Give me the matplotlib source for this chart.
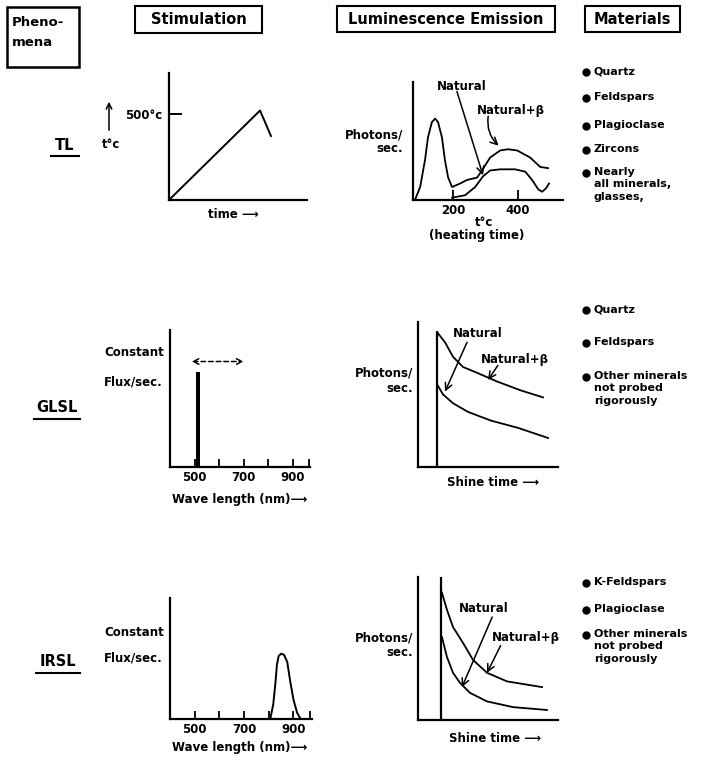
import matplotlib.pyplot as plt
from matplotlib.patches import Rectangle

# TL stimulation: linear heating ramp then cooling
tl_time = [0, 1.0, 1.12]
tl_temp = [0, 520, 372]

# TL glow curves (temperature in C, relative intensity)
tl_T_nb = [83, 99, 114, 123, 135, 145, 154, 166, 175, 185, 197, 222, 243, 274, 289, 314, 345, 369, 397, 437, 468, 492]
tl_I_nb = [0, 0.11, 0.34, 0.53, 0.66, 0.69, 0.66, 0.53, 0.34, 0.19, 0.11, 0.14, 0.17, 0.19, 0.25, 0.36, 0.42, 0.43, 0.42, 0.36, 0.28, 0.27]
tl_T_n = [197, 237, 268, 292, 314, 345, 391, 422, 443, 462, 474, 486, 495]
tl_I_n = [0.02, 0.04, 0.11, 0.20, 0.25, 0.26, 0.26, 0.24, 0.17, 0.09, 0.07, 0.10, 0.14]

# GLSL stimulation: narrow green line
glsl_laser_nm = 514
glsl_laser_flux = 0.69

# GLSL shine-down curves
glsl_t_on = 1.36
glsl_t_nb = [1.36, 1.93, 2.5, 3.21, 4.21, 5.64, 7.29, 8.93]
glsl_I_nb = [0.93, 0.86, 0.76, 0.69, 0.65, 0.59, 0.53, 0.48]
glsl_t_n = [1.36, 1.79, 2.5, 3.57, 5.21, 7.14, 9.29]
glsl_I_n = [0.57, 0.50, 0.44, 0.38, 0.32, 0.27, 0.20]

# IRSL stimulation: infrared band
irsl_nm = [806, 818, 827, 833, 840, 850, 862, 875, 886, 900, 915, 929]
irsl_flux = [0, 0.12, 0.30, 0.45, 0.52, 0.54, 0.53, 0.47, 0.32, 0.16, 0.05, 0]

# IRSL shine-down curves
irsl_t_on = 1.64
irsl_t_nb = [1.71, 2.07, 2.5, 3.21, 3.93, 4.93, 6.36, 8.86]
irsl_I_nb = [0.89, 0.77, 0.65, 0.54, 0.42, 0.33, 0.27, 0.23]
irsl_t_n = [1.71, 2.07, 2.5, 3.0, 3.71, 4.93, 6.79, 9.21]
irsl_I_n = [0.58, 0.44, 0.33, 0.26, 0.19, 0.13, 0.09, 0.07]

wl_ticks = [500, 600, 700, 800, 900, 965]
wl_labels = ['500', '', '700', '', '900', '']

tl_materials = ['Quartz', 'Feldspars', 'Plagioclase', 'Zircons', 'Nearly\nall minerals,\nglasses,']
glsl_materials = ['Quartz', 'Feldspars', 'Other minerals\nnot probed\nrigorously']
irsl_materials = ['K-Feldspars', 'Plagioclase', 'Other minerals\nnot probed\nrigorously']

W, H = 708, 759
plt.rcParams['font.family'] = 'DejaVu Sans'
plt.rcParams['font.weight'] = 'bold'

fig = plt.figure(figsize=(W / 100, H / 100), dpi=100)
ov = fig.add_axes([0, 0, 1, 1])
ov.set_xlim(0, W)
ov.set_ylim(H, 0)
ov.axis('off')

LW = 1.6
FS = 8.5


def panel(x0, y0, x1, y1):
    ax = fig.add_axes([x0 / W, 1 - y1 / H, (x1 - x0) / W, (y1 - y0) / H])
    ax.patch.set_alpha(0)
    for s in ['top', 'right']:
        ax.spines[s].set_visible(False)
    for s in ['left', 'bottom']:
        ax.spines[s].set_linewidth(LW)
    ax.set_xticks([])
    ax.set_yticks([])
    return ax


def box(x0, y0, x1, y1, lw=1.5):
    ov.add_patch(Rectangle((x0, y0), x1 - x0, y1 - y0, fill=False, lw=lw, ec='k'))


def arrow(ax, text, xy, xytext, start, rad=0.0):
    ax.text(xytext[0], xytext[1], text, ha='center', va='center', fontsize=FS)
    ax.annotate('', xy=xy, xytext=start,
                arrowprops=dict(arrowstyle='->,head_length=0.5,head_width=0.25', lw=1.1,
                                color='k', shrinkA=0, shrinkB=0,
                                connectionstyle='arc3,rad=%s' % rad))


# ---- headers ----
box(7, 7, 79, 67, lw=1.8)
ov.text(12, 22, 'Pheno-', ha='left', va='center', fontsize=9.5)
ov.text(12, 42, 'mena', ha='left', va='center', fontsize=9.5)
box(135, 6, 262, 33)
ov.text(199, 20, 'Stimulation', ha='center', va='center', fontsize=10.5)
box(337, 6, 555, 32)
ov.text(446, 20, 'Luminescence Emission', ha='center', va='center', fontsize=10.5)
box(585, 6, 680, 32)
ov.text(632, 20, 'Materials', ha='center', va='center', fontsize=10.5)

# ---- row labels ----
for name, xc, yc, half in [('TL', 65, 145, 14), ('GLSL', 57, 408, 23), ('IRSL', 58, 662, 22)]:
    ov.text(xc, yc, name, ha='center', va='center', fontsize=10.5)
    ov.plot([xc - half, xc + half], [yc + 11, yc + 11], color='k', lw=1.5)

# ---- TL stimulation ----
ax = panel(169, 73, 307, 200)
ax.plot(tl_time, tl_temp, color='k', lw=1.4)
ax.set_xlim(0, 1.516)
ax.set_ylim(0, 738)
ax.set_yticks([500])
ax.set_yticklabels(['500°c'], fontsize=FS)
ax.tick_params(axis='y', direction='in', length=9, width=1.4, pad=5)
ov.annotate('', xy=(109, 99), xytext=(109, 133),
            arrowprops=dict(arrowstyle='->,head_length=0.4,head_width=0.2', lw=1.1, color='k'))
ov.text(111, 144, 't°c', ha='center', va='center', fontsize=FS)
ov.text(233, 215, 'time ⟶', ha='center', va='center', fontsize=FS)

# ---- TL emission ----
ax = panel(413, 82, 563, 200)
ax.plot(tl_T_nb, tl_I_nb, color='k', lw=1.3)
ax.plot(tl_T_n, tl_I_n, color='k', lw=1.3)
ax.set_xlim(77, 538)
ax.set_ylim(0, 1)
ax.set_xticks([200, 400])
ax.set_xticklabels(['200', '400'], fontsize=FS)
ax.tick_params(axis='x', direction='in', length=7, width=1.3, pad=3)
arrow(ax, 'Natural', (292, 0.21), (226, 0.96), (212, 0.92))
arrow(ax, 'Natural+β', (340, 0.46), (379, 0.76), (308, 0.71), rad=0.25)
ov.text(403, 135, 'Photons/', ha='right', va='center', fontsize=FS)
ov.text(403, 149, 'sec.', ha='right', va='center', fontsize=FS)
ov.text(484, 223, 't°c', ha='center', va='center', fontsize=FS)
ov.text(477, 236, '(heating time)', ha='center', va='center', fontsize=FS)

# ---- GLSL stimulation ----
ax = panel(170, 330, 310, 467)
ax.bar([glsl_laser_nm], [glsl_laser_flux], width=20, color='k')
ax.set_xlim(400, 970)
ax.set_ylim(0, 1)
ax.set_xticks(wl_ticks)
ax.set_xticklabels(wl_labels, fontsize=FS)
ax.tick_params(axis='x', direction='in', length=6, width=1.3, pad=3)
ax.annotate('', xy=(700, 0.77), xytext=(488, 0.77),
            arrowprops=dict(arrowstyle='<->,head_length=0.4,head_width=0.2', lw=1.1,
                            color='k', linestyle=(0, (3, 2)), shrinkA=0, shrinkB=0))
ov.text(104, 353, 'Constant', ha='left', va='center', fontsize=FS)
ov.text(104, 382, 'Flux/sec.', ha='left', va='center', fontsize=FS)
ov.text(240, 500, 'Wave length (nm)⟶', ha='center', va='center', fontsize=FS)

# ---- GLSL emission ----
ax = panel(418, 322, 558, 467)
ax.vlines(glsl_t_on, 0, 0.94, color='k', lw=LW)
ax.plot(glsl_t_nb, glsl_I_nb, color='k', lw=1.3)
ax.plot(glsl_t_n, glsl_I_n, color='k', lw=1.3)
ax.set_xlim(0, 10)
ax.set_ylim(0, 1)
arrow(ax, 'Natural', (1.93, 0.52), (4.3, 0.92), (3.5, 0.86))
arrow(ax, 'Natural+β', (5.0, 0.60), (6.9, 0.74), (5.7, 0.70))
ov.text(413, 373, 'Photons/', ha='right', va='center', fontsize=FS)
ov.text(413, 388, 'sec.', ha='right', va='center', fontsize=FS)
ov.text(493, 483, 'Shine time ⟶', ha='center', va='center', fontsize=FS)

# ---- IRSL stimulation ----
ax = panel(170, 598, 312, 719)
ax.plot(irsl_nm, irsl_flux, color='k', lw=1.4)
ax.set_xlim(400, 975)
ax.set_ylim(0, 1)
ax.set_xticks(wl_ticks)
ax.set_xticklabels(wl_labels, fontsize=FS)
ax.tick_params(axis='x', direction='in', length=6, width=1.3, pad=3)
ov.text(104, 633, 'Constant', ha='left', va='center', fontsize=FS)
ov.text(104, 658, 'Flux/sec.', ha='left', va='center', fontsize=FS)
ov.text(240, 748, 'Wave length (nm)⟶', ha='center', va='center', fontsize=FS)

# ---- IRSL emission ----
ax = panel(418, 577, 558, 720)
ax.vlines(irsl_t_on, 0, 1.0, color='k', lw=LW)
ax.plot(irsl_t_nb, irsl_I_nb, color='k', lw=1.3)
ax.plot(irsl_t_n, irsl_I_n, color='k', lw=1.3)
ax.set_xlim(0, 10)
ax.set_ylim(0, 1)
arrow(ax, 'Natural', (3.14, 0.23), (4.7, 0.78), (5.3, 0.72))
arrow(ax, 'Natural+β', (4.93, 0.33), (7.7, 0.58), (5.9, 0.52))
ov.text(413, 638, 'Photons/', ha='right', va='center', fontsize=FS)
ov.text(413, 653, 'sec.', ha='right', va='center', fontsize=FS)
ov.text(495, 738, 'Shine time ⟶', ha='center', va='center', fontsize=FS)


# ---- materials ----
def materials_at(items, ys):
    for item, y in zip(items, ys):
        ov.plot([586], [y], 'o', color='k', ms=5)
        ov.text(594, y - 6, item, ha='left', va='top', fontsize=8, linespacing=1.3)


materials_at(tl_materials, [72, 98, 126, 150, 173])
materials_at(glsl_materials, [310, 343, 377])
materials_at(irsl_materials, [583, 610, 635])

fig.savefig('out.png', dpi=100)
